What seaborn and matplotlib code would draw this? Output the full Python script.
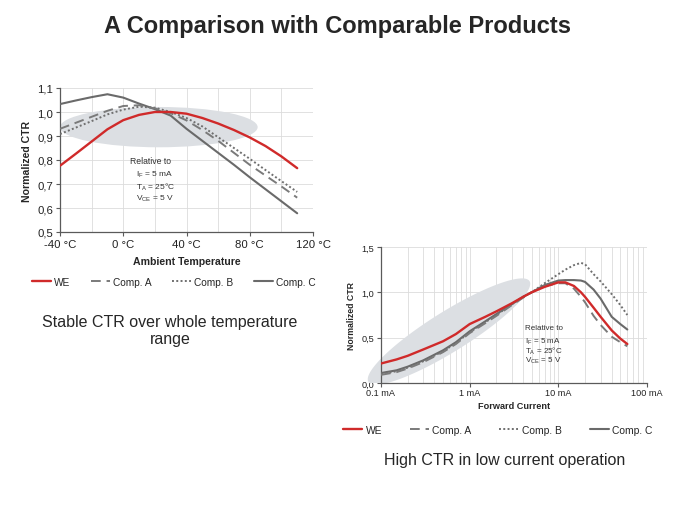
import matplotlib
matplotlib.use("Agg")
import matplotlib.pyplot as plt
import numpy as np
import pandas as pd
import seaborn as sns
from matplotlib.patches import Ellipse, Polygon
from matplotlib.ticker import FixedLocator, LogLocator, NullFormatter

# left chart: CTR vs ambient temperature
temp_c = [-40, -30, -20, -10, 0, 10, 20, 30, 40, 50, 60, 70, 80, 90, 100, 110]
temp_we = [0.776, 0.826, 0.877, 0.928, 0.966, 0.988, 1.0, 1.0, 0.993, 0.975, 0.952, 0.925, 0.894, 0.858, 0.815, 0.766]
temp_a = [0.93, 0.955, 0.98, 1.005, 1.025, 1.028, 1.015, 0.995, 0.965, 0.925, 0.88, 0.83, 0.78, 0.735, 0.69, 0.643]
temp_b = [0.908, 0.935, 0.962, 0.99, 1.01, 1.022, 1.018, 1.0, 0.975, 0.94, 0.895, 0.85, 0.805, 0.758, 0.712, 0.667]
temp_c_comp = [1.033, 1.048, 1.062, 1.074, 1.06, 1.035, 1.012, 0.985, 0.93, 0.88, 0.83, 0.78, 0.728, 0.678, 0.628, 0.578]
temp_ticks = [-40, 0, 40, 80, 120]
temp_labels = ["-40 °C", "0 °C", "40 °C", "80 °C", "120 °C"]
ctr_ticks_left = [0.5, 0.6, 0.7, 0.8, 0.9, 1.0, 1.1]
ctr_labels_left = ["0,5", "0,6", "0,7", "0,8", "0,9", "1,0", "1,1"]

# right chart: CTR vs forward current
current_ma = [0.1, 0.15, 0.2, 0.3, 0.5, 0.7, 1, 1.5, 2, 3, 4, 5, 7, 10, 12, 15, 18, 20, 25, 30, 40, 50, 60]
cur_we = [0.215, 0.26, 0.3, 0.37, 0.46, 0.54, 0.65, 0.73, 0.79, 0.88, 0.95, 1.0, 1.06, 1.11, 1.11, 1.07, 1.0, 0.95, 0.83, 0.73, 0.58, 0.49, 0.43]
cur_a = [0.09, 0.12, 0.16, 0.23, 0.34, 0.43, 0.55, 0.66, 0.74, 0.86, 0.94, 1.0, 1.07, 1.1, 1.1, 1.04, 0.95, 0.89, 0.74, 0.64, 0.51, 0.45, 0.405]
cur_b = [0.1, 0.13, 0.17, 0.24, 0.35, 0.44, 0.56, 0.67, 0.75, 0.87, 0.95, 1.0, 1.1, 1.2, 1.25, 1.3, 1.325, 1.31, 1.2, 1.12, 0.98, 0.86, 0.75]
cur_c = [0.11, 0.14, 0.18, 0.25, 0.36, 0.45, 0.57, 0.68, 0.76, 0.87, 0.95, 1.0, 1.08, 1.13, 1.135, 1.135, 1.13, 1.115, 1.03, 0.93, 0.73, 0.65, 0.59]
cur_ticks = [0.1, 1, 10, 100]
cur_labels = ["0.1 mA", "1 mA", "10 mA", "100 mA"]
ctr_ticks_right = [0.0, 0.5, 1.0, 1.5]
ctr_labels_right = ["0,0", "0,5", "1,0", "1,5"]

series = ["WE", "Comp. A", "Comp. B", "Comp. C"]
styles = {
    "WE": dict(color="#d02a2a", linestyle="-", linewidth=1.7),
    "Comp. A": dict(color="#7a7a7a", linestyle=(0, (5, 3)), linewidth=1.4),
    "Comp. B": dict(color="#6f6f6f", linestyle=(0, (1, 1.2)), linewidth=1.4),
    "Comp. C": dict(color="#6a6a6a", linestyle="-", linewidth=1.5),
}
conditions = ["I$_\\mathregular{F}$ = 5 mA", "T$_\\mathregular{A}$ = 25°C", "V$_\\mathregular{CE}$ = 5 V"]

sns.set_style("white")
plt.rcParams["font.family"] = ["Liberation Sans", "DejaVu Sans"]
plt.rcParams["mathtext.fontset"] = "custom"
plt.rcParams["mathtext.rm"] = "Liberation Sans"
plt.rcParams["mathtext.it"] = "Liberation Sans"

fig = plt.figure(figsize=(6.75, 5.06), dpi=100)
ax1 = fig.add_axes([60 / 675, (506 - 233) / 506, 253 / 675, 144 / 506])
ax2 = fig.add_axes([381 / 675, (506 - 384) / 506, 266 / 675, 136 / 506])

df_temp = pd.DataFrame({"T": temp_c, "WE": temp_we, "Comp. A": temp_a,
                        "Comp. B": temp_b, "Comp. C": temp_c_comp})
df_cur = pd.DataFrame({"I": current_ma, "WE": cur_we, "Comp. A": cur_a,
                       "Comp. B": cur_b, "Comp. C": cur_c})


def style_axes(ax, tick_size, xpad):
    for s in ["top", "right"]:
        ax.spines[s].set_visible(False)
    for s in ["left", "bottom"]:
        ax.spines[s].set_color("#5a5a5a")
        ax.spines[s].set_linewidth(0.9)
    ax.tick_params(axis="both", which="major", length=3, width=0.8, color="#5a5a5a",
                   labelsize=tick_size, labelcolor="#222222", pad=2, direction="out",
                   bottom=True, left=True)
    ax.tick_params(axis="x", which="major", pad=xpad)
    ax.tick_params(axis="x", which="minor", length=0)


# ----- left chart -----
ax1.add_patch(Ellipse((22.5, 0.937), 125, 0.168, color="#dcdfe3", zorder=1, lw=0))
for name in series[::-1]:
    sns.lineplot(data=df_temp, x="T", y=name, ax=ax1, zorder=3, **styles[name])
ax1.set_xlim(-40, 120)
ax1.set_ylim(0.5, 1.1)
ax1.set_xticks(temp_ticks)
ax1.set_xticklabels(temp_labels)
ax1.set_yticks(ctr_ticks_left)
ax1.set_yticklabels(ctr_labels_left)
ax1.xaxis.set_minor_locator(FixedLocator([-20, 20, 60, 100]))
ax1.grid(True, which="both", color="#dcdcdc", linewidth=0.6, zorder=0)
ax1.set_axisbelow(True)
ax1.set_xlabel("Ambient Temperature", fontsize=7.6, fontweight="bold", labelpad=5)
ax1.set_ylabel("Normalized CTR", fontsize=7.6, fontweight="bold", labelpad=4)
ax1.text(4, 0.797, "Relative to", fontsize=6.2, va="center", ha="left", color="#333333", zorder=4)
for i, line in enumerate(conditions):
    ax1.text(8, 0.74 - i * 0.048, line, fontsize=6.0, va="center", ha="left",
             color="#333333", zorder=4)
style_axes(ax1, 8.2, 2)

# ----- right chart -----
pw, ph = 266.0, 136.0
t = np.linspace(0, 2 * np.pi, 120)
ang = np.deg2rad(32)
ex = 95 * np.cos(t)
ey = 20 * np.sin(t)
px = 449 + ex * np.cos(ang) - ey * np.sin(ang)
py = 332.5 - (ex * np.sin(ang) + ey * np.cos(ang))
py = np.minimum(py, 384)
poly = np.column_stack([(px - 381) / pw, (384 - py) / ph])
ax2.add_patch(Polygon(poly, closed=True, transform=ax2.transAxes, color="#dcdfe3",
                      zorder=1, lw=0, clip_on=False))
for name in series[::-1]:
    sns.lineplot(data=df_cur, x="I", y=name, ax=ax2, zorder=3, **styles[name])
ax2.set_xscale("log")
ax2.set_xlim(0.1, 100)
ax2.set_ylim(0, 1.5)
ax2.set_xticks(cur_ticks)
ax2.set_xticklabels(cur_labels)
ax2.xaxis.set_minor_locator(LogLocator(base=10, subs=np.arange(2, 10)))
ax2.xaxis.set_minor_formatter(NullFormatter())
ax2.set_yticks(ctr_ticks_right)
ax2.set_yticklabels(ctr_labels_right)
ax2.grid(True, which="both", axis="x", color="#dcdcdc", linewidth=0.6, zorder=0)
ax2.grid(True, which="major", axis="y", color="#dcdcdc", linewidth=0.6, zorder=0)
ax2.set_axisbelow(True)
ax2.set_xlabel("Forward Current", fontsize=6.6, fontweight="bold", labelpad=3)
ax2.set_ylabel("Normalized CTR", fontsize=6.3, fontweight="bold", labelpad=4)
ax2.text(4.2, 0.607, "Relative to", fontsize=5.8, va="center", ha="left", color="#333333", zorder=4)
for i, line in enumerate(conditions):
    ax2.text(4.2, 0.465 - i * 0.105, line, fontsize=5.8, va="center", ha="left",
             color="#333333", zorder=4)
style_axes(ax2, 6.6, 0.8)

# legends below each chart
for x0, y0, fs, cs in [(32, 283, 7.3, 2.0), (343, 431, 7.4, 2.7)]:
    handles = [plt.Line2D([], [], **styles[n]) for n in series]
    fig.legend(handles, series, loc="center left", bbox_to_anchor=(x0 / 675, 1 - y0 / 506),
               ncol=4, frameon=False, prop={"size": fs}, handlelength=1.85,
               columnspacing=cs, handletextpad=0.35, borderpad=0, borderaxespad=0)

fig.text(0.5, 1 - 26 / 506, "A Comparison with Comparable Products", ha="center", va="center",
         fontsize=17, fontweight="bold")
fig.text(170 / 675, 1 - 331 / 506, "Stable CTR over whole temperature\nrange", ha="center",
         va="center", fontsize=11.5, linespacing=1.1)
fig.text(505 / 675, 1 - 461 / 506, "High CTR in low current operation", ha="center",
         va="center", fontsize=11.5)

fig.savefig("out.png", dpi=100)
